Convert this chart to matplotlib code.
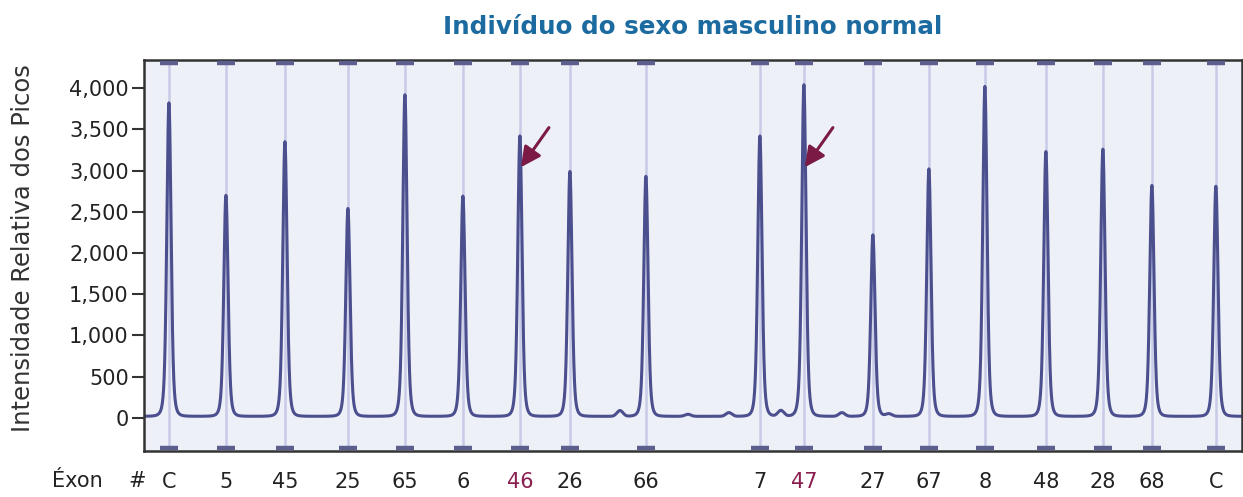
import matplotlib.pyplot as plt
import matplotlib.transforms as mtransforms
import numpy as np

plt.rcParams['font.family'] = ['DejaVu Sans']

# peak data (x in plot units, height in intensity)
exons = ['C', '5', '45', '25', '65', '6', '46', '26', '66',
         '7', '47', '27', '67', '8', '48', '28', '68', 'C']
peak_pos = [25, 82, 141, 204, 261, 319, 376, 426, 502,
            616, 660, 729, 785, 841, 902, 959, 1008, 1072]
peak_height = [3800, 2680, 3330, 2520, 3900, 2670, 3400, 2970, 2910,
               3400, 4020, 2200, 3000, 4000, 3210, 3240, 2800, 2790]
# small baseline bumps between peaks
bump_pos = [476, 544, 585, 637, 698, 745]
bump_height = [70, 25, 45, 70, 45, 30]
highlight = ['46', '47']

baseline = 20
x = np.linspace(0, 1098, 8000)
y = np.full_like(x, baseline, dtype=float)
for p, h in zip(peak_pos, peak_height):
    d = x - p
    y += h * (0.7 * np.exp(-d**2 / (2 * 1.7**2)) + 0.3 / (1 + (d / 4.2)**4))
for p, h in zip(bump_pos, bump_height):
    y += h * np.exp(-(x - p)**2 / (2 * 3.0**2))

fig = plt.figure(figsize=(12.43, 4.97), dpi=100)
ax = fig.add_axes([0.1158, 0.0926, 0.8833, 0.7867])
ax.set_facecolor('#eef0f8')

ymin, ymax = -400, 4340
ax.set_xlim(0, 1098)
ax.set_ylim(ymin, ymax)

# guide lines and the little bars just inside the frame
edge = mtransforms.blended_transform_factory(ax.transData, ax.transAxes)
for p in peak_pos:
    ax.axvline(p, color='#c8cae8', lw=1.8, zorder=1)
    for yy in (0.007, 0.993):
        ax.plot([p - 9, p + 9], [yy, yy], color='#5c5f8e', lw=3.2,
                solid_capstyle='butt', zorder=3, transform=edge)

ax.plot(x, y, color='#4b4f8e', lw=2.2, zorder=2)

# arrows pointing at exons 46 and 47
for lab in highlight:
    i = exons.index(lab)
    p = peak_pos[i]
    ax.annotate('', xy=(p + 1, 3040), xytext=(p + 29, 3520),
                arrowprops=dict(arrowstyle='-|>,head_length=0.6,head_width=0.3',
                                mutation_scale=20, color='#7a1a45', lw=2.2,
                                shrinkA=0, shrinkB=0),
                zorder=4)

ax.set_yticks([0, 500, 1000, 1500, 2000, 2500, 3000, 3500, 4000])
ax.set_yticklabels(['0', '500', '1,000', '1,500', '2,000', '2,500',
                    '3,000', '3,500', '4,000'])
ax.tick_params(axis='y', labelsize=15, length=9, width=1.5,
               color='#333333', labelcolor='#222222', pad=2)

ax.set_xticks(peak_pos)
ax.set_xticklabels(exons)
ax.tick_params(axis='x', length=0, labelsize=15, pad=15,
               labelcolor='#222222')
for t, lab in zip(ax.get_xticklabels(), exons):
    if lab in highlight:
        t.set_color('#8a1f4f')

fig.text(52 / 1243, 0.020, 'Éxon', fontsize=15, color='#222222',
         ha='left', va='baseline')
fig.text(137 / 1243, 0.020, '#', fontsize=15, color='#222222',
         ha='center', va='baseline')

for s in ax.spines.values():
    s.set_color('#333333')
    s.set_linewidth(1.8)

ax.set_ylabel('Intensidade Relativa dos Picos', fontsize=17.5,
              color='#333333')
ax.yaxis.set_label_coords(-0.099, 0.52)
ax.set_title('Indivíduo do sexo masculino normal', fontsize=17.7,
             fontweight='bold', color='#1b6aa0', pad=19)

fig.savefig('out.png', dpi=100)
